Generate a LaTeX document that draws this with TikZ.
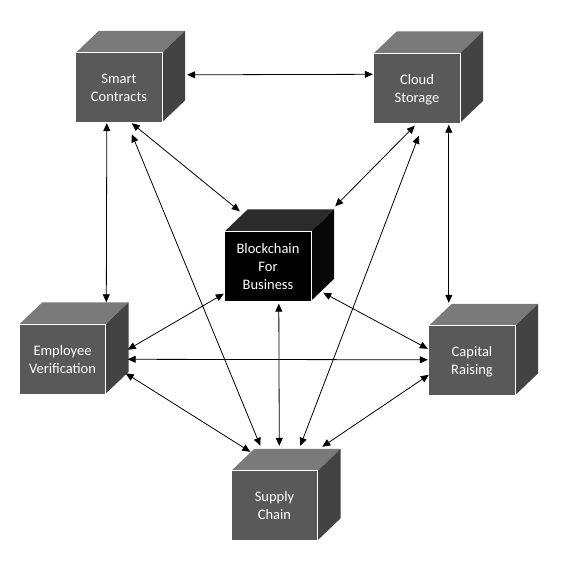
\documentclass[tikz,border=0pt]{standalone}
\usepackage{fontspec}
\setmainfont{Carlito}
\usetikzlibrary{arrows.meta,calc}
\definecolor{frontgray}{HTML}{595959}
\definecolor{topgray}{HTML}{7A7A7A}
\definecolor{sidegray}{HTML}{434343}
\definecolor{bctop}{HTML}{2B2B2B}
\definecolor{bcside}{HTML}{080808}
\newcommand\mycube[6]{%
  \node[cubefront, fill=#4] (#1) at (#2) {#3};
  \fill[#5] (#1.north west) -- (#1.north east) -- ($(#1.north east)+(23,-22)$) -- ($(#1.north west)+(23,-22)$) -- cycle;
  \fill[#6] (#1.north east) -- (#1.south east) -- ($(#1.south east)+(23,-22)$) -- ($(#1.north east)+(23,-22)$) -- cycle;
  \draw[white, line width=1.2pt] (#1.north west) -- (#1.north east) -- (#1.south east);
}
\begin{document}
\begin{tikzpicture}[x=1pt,y=-1pt,
  cubefront/.style={rectangle, minimum width=86pt, minimum height=69pt, inner sep=0pt,
    text=white, align=center, font=\fontsize{14.5}{18}\selectfont, text depth=0pt},
  link/.style={{Triangle[length=8pt,width=7pt]}-{Triangle[length=8pt,width=7pt]}, line width=0.8pt, black}]
\useasboundingbox (0,0) rectangle (566,562);
\fill[white] (0,0) rectangle (566,562);
\mycube{sc}{119,87.5}{Smart\\Contracts}{frontgray}{topgray}{sidegray}
\mycube{cs}{417,88}{Cloud\\Storage}{frontgray}{topgray}{sidegray}
\mycube{bc}{268,266}{Blockchain\\For\\Business}{black}{bctop}{bcside}
\mycube{ev}{62.5,359}{Employee\\Verification}{frontgray}{topgray}{sidegray}
\mycube{cr}{472,360.5}{Capital\\Raising}{frontgray}{topgray}{sidegray}
\mycube{su}{274.5,505.5}{Supply\\Chain}{frontgray}{topgray}{sidegray}
% connectors
\draw[link] ($(sc.north east)+(25,22)$) -- ($(cs.north west)+(-1,21)$);
\draw[link] ($(sc.south west)+(31,1)$) -- ($(ev.north west)+(87,-22)$);
\draw[link] ($(sc.south west)+(56,1)$) -- ($(bc.north west)+(15,-20)$);
\draw[link] ($(sc.south west)+(56,12)$) -- ($(su.north west)+(29,-25)$);
\draw[link] ($(cs.south west)+(41,3)$) -- ($(bc.north east)+(24,-25)$);
\draw[link] ($(cs.south west)+(45,13)$) -- ($(su.north west)+(69,-25)$);
\draw[link] ($(cs.south west)+(75,2)$) -- ($(cr.north west)+(20,-23)$);
\draw[link] ($(bc.south west)+(-1,-7)$) -- ($(ev.south east)+(22,-44)$);
\draw[link] ($(bc.south east)+(12,-8)$) -- ($(cr.north west)+(-1,23)$);
\draw[link] ($(bc.south west)+(54,3)$) -- ($(su.north west)+(48,-25)$);
\draw[link] ($(ev.north east)+(22,35)$) -- ($(cr.north west)+(-1,34)$);
\draw[link] ($(ev.north east)+(20,49)$) -- ($(su.north west)+(19,-19)$);
\draw[link] ($(cr.north west)+(0,49)$) -- ($(su.north west)+(91,-24)$);
\end{tikzpicture}
\end{document}
